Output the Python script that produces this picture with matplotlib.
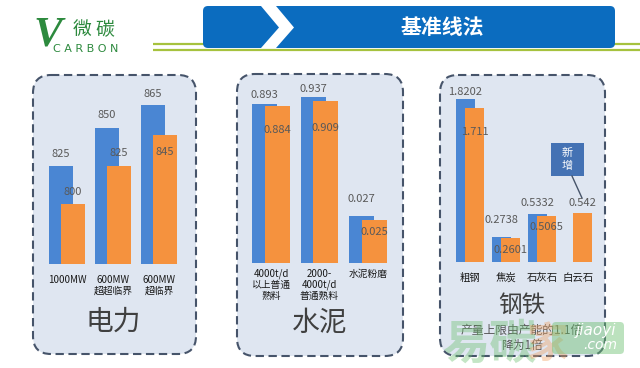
import matplotlib
matplotlib.use('Agg')
import matplotlib.pyplot as plt
from matplotlib.patches import FancyBboxPatch, Polygon, Rectangle

plt.rcParams['font.family'] = ['Noto Sans CJK SC', 'DejaVu Sans']

# ---------------- data ----------------
power_cats = ['1000MW', '600MW\n超超临界', '600MW\n超临界']
power_old = [825, 850, 865]
power_new = [800, 825, 845]

cement_cats = ['4000t/d\n以上普通\n熟料', '2000-\n4000t/d\n普通熟料', '水泥粉磨']
cement_old = [0.893, 0.937, 0.027]
cement_new = [0.884, 0.909, 0.025]

steel_cats = ['粗钢', '焦炭', '石灰石', '白云石']
steel_old = [1.8202, 0.2738, 0.5332, None]
steel_new = [1.711, 0.2601, 0.5065, 0.542]

panel_titles = ['电力', '水泥', '钢铁']
title = '基准线法'
steel_note = '产量上限由产能的1.1倍\n降为1倍'
new_tag = '新\n增'

# ---------------- style ----------------
W, H = 640, 368
BLUE = '#4a86d3'
ORANGE = '#f5923e'
PANEL_FILL = '#dfe6f1'
EDGE = '#46546a'
LABEL = '#595959'
GREEN = '#2d8a3e'

fig = plt.figure(figsize=(W / 100, H / 100), dpi=100)
bg = fig.add_axes([0, 0, 1, 1])
bg.set_xlim(0, W)
bg.set_ylim(H, 0)
bg.axis('off')

# header lines
for yy in (43.5, 49.5):
    bg.plot([153, 640], [yy, yy], color='#a6c23e', lw=1.6, solid_capstyle='butt', zorder=1)
# banner
bg.add_patch(FancyBboxPatch((203, 6), 412, 42, boxstyle='round,pad=0,rounding_size=5',
                            fc='#0b6cbf', ec='none', zorder=2))
bg.add_patch(Polygon([(261, 6), (276, 6), (294, 27.5), (276, 48), (261, 48), (279, 27.5)],
                     closed=True, fc='white', ec='none', zorder=3))
bg.text(442, 28, title, color='white', fontsize=15, fontweight='bold',
        ha='center', va='center', zorder=4)

# logo
bg.text(48, 35, 'V', family=['Liberation Serif'], style='italic', fontweight='bold',
        fontsize=31, color=GREEN, ha='center', va='center')
bg.text(94, 30, '微 碳', fontsize=13.5, color=GREEN, ha='center', va='center')
bg.text(86, 49.5, 'C A R B O N', fontsize=8, color=GREEN, ha='center', va='center',
        family=['DejaVu Sans'])

# panels
panels = [(33, 75, 196, 354), (237, 74, 403, 356), (440, 75, 605, 356)]
for (x0, y0, x1, y1) in panels:
    bg.add_patch(FancyBboxPatch((x0, y0), x1 - x0, y1 - y0,
                                boxstyle='round,pad=0,rounding_size=18',
                                fc=PANEL_FILL, ec=EDGE, lw=1.5,
                                ls=(0, (4, 2.2)), zorder=1))

bg.text(113, 322, panel_titles[0], fontsize=20, color='#404040', ha='center', va='center')
bg.text(320, 323, panel_titles[1], fontsize=20, color='#404040', ha='center', va='center')
bg.text(522, 305, panel_titles[2], fontsize=17, color='#404040', ha='center', va='center')
bg.text(522, 338, steel_note, fontsize=8.5, color='#555555', ha='center', va='center',
        linespacing=1.25, zorder=3)

# watermark
bg.text(490, 345, '易碳', fontsize=34, color='#6cc070', alpha=0.4, ha='center',
        va='center', fontweight='bold', zorder=4)
bg.text(547, 345, '家', fontsize=30, color='#f0a060', alpha=0.4, ha='center',
        va='center', fontweight='bold', zorder=4)
bg.add_patch(FancyBboxPatch((552, 322), 72, 32, boxstyle='round,pad=0,rounding_size=4',
                            fc='#6cc070', ec='none', alpha=0.45, zorder=4))
bg.text(596, 331, 'jiaoyi', fontsize=11, color='white', style='italic', ha='center',
        va='center', family=['DejaVu Sans'], zorder=5)
bg.text(600, 345, '.com', fontsize=10, color='white', style='italic', ha='center',
        va='center', family=['DejaVu Sans'], zorder=5)

PT = 0.72  # px -> points


def make_ax(x0, x1, top, base):
    ax = fig.add_axes([x0 / W, 1 - base / H, (x1 - x0) / W, (base - top) / H])
    ax.patch.set_alpha(0)
    for s in ax.spines.values():
        s.set_visible(False)
    ax.set_yticks([])
    return ax


def label(ax, x, v, off_px, txt):
    ax.annotate(txt, xy=(x, v), xytext=(0, off_px * PT), textcoords='offset points',
                ha='center', va='center', fontsize=8, color=LABEL, zorder=5,
                annotation_clip=False)


def fmt(v):
    return ('%g' % v)


# ---- panel 1: power ----
ax1 = make_ax(44, 182, 80, 264)
ax1.set_xlim(-0.5, 2.5)
ax1.set_ylim(761, 761 + 184 / 1.53)
w, d = 0.52, 0.13
xs = list(range(len(power_cats)))
ax1.bar([x - d for x in xs], power_old, width=w, color=BLUE, zorder=2)
ax1.bar([x + d for x in xs], power_new, width=w, color=ORANGE, zorder=3)
off_old = [12, 13, 11]
off_new = [12, 13, -17]
for i in xs:
    label(ax1, i - d, power_old[i], off_old[i], fmt(power_old[i]))
    label(ax1, i + d, power_new[i], off_new[i], fmt(power_new[i]))
ax1.set_xticks(xs)
ax1.set_xticklabels(power_cats, fontsize=7, color='#1a1a1a', linespacing=1.05)
ax1.tick_params(axis='x', length=0, pad=8)

# ---- panel 2: cement (third group on its own scale) ----
ax2 = make_ax(246.75, 392.25, 80, 263.3)
ax2.set_xlim(-0.5, 2.5)
ax2.set_ylim(0, 183.3 / 178)
ax2b = ax2.twinx()
ax2b.patch.set_alpha(0)
for s in ax2b.spines.values():
    s.set_visible(False)
ax2b.set_yticks([])
ax2b.set_ylim(0, 183.3 / 1748)
xs = list(range(len(cement_cats)))
for i in xs:
    a = ax2 if i < 2 else ax2b
    a.bar(i - d, cement_old[i], width=w, color=BLUE, zorder=2)
    a.bar(i + d, cement_new[i], width=w, color=ORANGE, zorder=3)
off_old = [9, 8, 17]
off_new = [-24, -27, -12]
for i in xs:
    a = ax2 if i < 2 else ax2b
    label(a, i - d, cement_old[i], off_old[i], fmt(cement_old[i]))
    label(a, i + d, cement_new[i], off_new[i], fmt(cement_new[i]))
ax2.set_xticks(xs)
ax2.set_xticklabels(cement_cats, fontsize=7, color='#1a1a1a', linespacing=1.1)
ax2.tick_params(axis='x', length=0, pad=4)
ax2b.tick_params(axis='x', length=0)

# ---- panel 3: steel ----
ax3 = make_ax(452, 596, 80, 261.7)
ax3.set_xlim(-0.5, 3.5)
ax3.set_ylim(0, 181.7 / 89.6)
w3, d3 = 0.53, 0.135
xs = list(range(len(steel_cats)))
for i in xs:
    if steel_old[i] is not None:
        ax3.bar(i - d3, steel_old[i], width=w3, color=BLUE, zorder=2)
    ax3.bar(i + d3, steel_new[i], width=w3, color=ORANGE, zorder=3)
off_old = [7, 17, 11, 0]
off_new = [-24, -12, -11, 10]
for i in xs:
    if steel_old[i] is not None:
        label(ax3, i - d3, steel_old[i], off_old[i], fmt(steel_old[i]))
    label(ax3, i + d3, steel_new[i], off_new[i], fmt(steel_new[i]))
ax3.set_xticks(xs)
ax3.set_xticklabels(steel_cats, fontsize=7.5, color='#1a1a1a')
ax3.tick_params(axis='x', length=0, pad=8)

# "新增" callout
bg.add_patch(Rectangle((551, 143), 33, 33, fc='#4472b4', ec='none', zorder=3))
bg.text(567.5, 159.5, new_tag, color='white', fontsize=8, ha='center', va='center',
        linespacing=1.3, zorder=4)
bg.plot([572, 582], [176, 198], color=EDGE, lw=1, zorder=3)

fig.savefig('out.png', dpi=100)
